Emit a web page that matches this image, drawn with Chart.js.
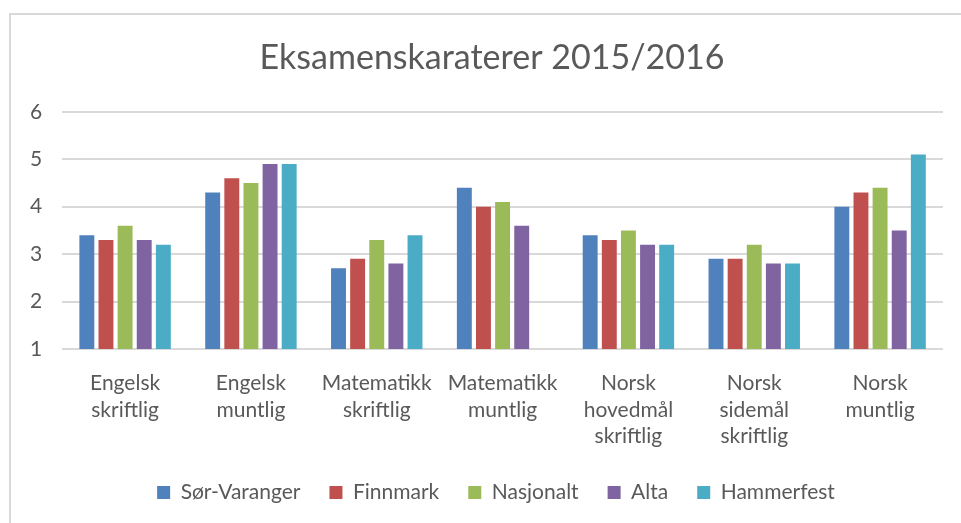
<!DOCTYPE html>
<html>
<head>
<meta charset="utf-8">
<script src="https://cdn.jsdelivr.net/npm/chart.js@4/dist/chart.umd.min.js"></script>
<style>
html,body{margin:0;padding:0;background:#fff;}
#wrap{position:absolute;left:0;top:0;width:961px;height:523px;}
#frame{position:absolute;left:9px;top:13px;right:-5px;bottom:-5px;border-left:2px solid #d9d9d9;border-top:2px solid #d9d9d9;pointer-events:none;}
</style>
</head>
<body>
<div id="wrap"><canvas id="c" width="961" height="523"></canvas></div>
<div id="frame"></div>
<script>
const categories = [
  ["Engelsk","skriftlig"],
  ["Engelsk","muntlig"],
  ["Matematikk","skriftlig"],
  ["Matematikk","muntlig"],
  ["Norsk","hovedmål","skriftlig"],
  ["Norsk","sidemål","skriftlig"],
  ["Norsk","muntlig"]
];
const seriesNames = ["Sør-Varanger","Finnmark","Nasjonalt","Alta","Hammerfest"];
const sorVaranger = [3.4, 4.3, 2.7, 4.4, 3.4, 2.9, 4.0];
const finnmark    = [3.3, 4.6, 2.9, 4.0, 3.3, 2.9, 4.3];
const nasjonalt   = [3.6, 4.5, 3.3, 4.1, 3.5, 3.2, 4.4];
const alta        = [3.3, 4.9, 2.8, 3.6, 3.2, 2.8, 3.5];
const hammerfest  = [3.2, 4.9, 3.4, null, 3.2, 2.8, 5.1];
const yTicks = [1, 2, 3, 4, 5, 6];
const colors = ["#4f81bd","#c0504d","#9bbb59","#8064a2","#4bacc6"];

const values = [sorVaranger, finnmark, nasjonalt, alta, hammerfest];
const FONT = "Lato";

const shiftPlugin = {
  id: 'shiftBoxes',
  beforeLayout(chart) {
    const lg = chart.legend;
    if (lg && !lg._fitWrapped) {
      const orig = lg.fit;
      lg.fit = function () { orig.call(this); this.height -= 8; };
      lg._fitWrapped = true;
    }
  },
  afterLayout(chart) {
    if (chart.titleBlock) { chart.titleBlock.left += 31; }
    if (chart.legend) { chart.legend.left += 39; chart.legend.top -= 18; }
  }
};

new Chart(document.getElementById('c'), {
  type: 'bar',
  data: {
    labels: categories,
    datasets: seriesNames.map((n, i) => ({
      label: n,
      data: values[i],
      backgroundColor: colors[i],
      borderWidth: 0,
      barPercentage: 0.78,
      categoryPercentage: 0.76
    }))
  },
  plugins: [shiftPlugin],
  options: {
    responsive: false,
    animation: false,
    layout: { padding: { left: 10, right: 18, top: 0, bottom: 0 } },
    plugins: {
      title: {
        display: true,
        text: 'Eksamenskaraterer 2015/2016',
        color: '#595959',
        font: { family: FONT, size: 34, weight: 'normal', lineHeight: 1.2 },
        padding: { top: 38, bottom: 33 }
      },
      legend: {
        position: 'bottom',
        labels: {
          color: '#595959',
          font: { family: FONT, size: 21 },
          boxWidth: 13,
          boxHeight: 13,
          padding: 29
        }
      },
      tooltip: { enabled: false }
    },
    scales: {
      x: {
        grid: { display: false, drawTicks: false },
        border: { display: false },
        ticks: {
          color: '#595959',
          font: { family: FONT, size: 21, lineHeight: 1.27 },
          padding: 21,
          maxRotation: 0,
          autoSkip: false
        }
      },
      y: {
        min: 1,
        max: 6,
        afterBuildTicks: (axis) => { axis.ticks = yTicks.map(v => ({ value: v })); },
        grid: { color: '#d9d9d9', lineWidth: 2, drawTicks: false },
        border: { display: false },
        ticks: {
          color: '#595959',
          font: { family: FONT, size: 21 },
          padding: 20
        }
      }
    }
  }
});
</script>
</body>
</html>
